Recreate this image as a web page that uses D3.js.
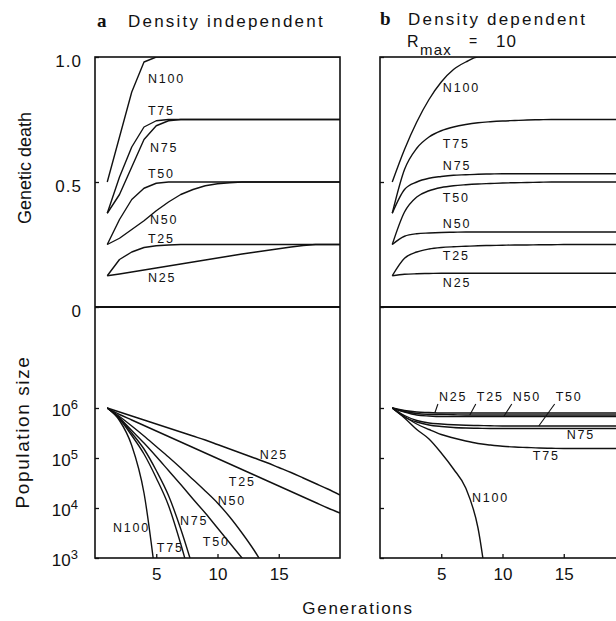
<!DOCTYPE html>
<html>
<head>
<meta charset="utf-8">
<script src="https://cdn.jsdelivr.net/npm/d3@7"></script>
<style>
  body { margin: 0; background: #fff; }
  text { font-family: "Liberation Sans", Arial, Helvetica, sans-serif; fill: #111; }
</style>
</head>
<body>
<svg id="chart" width="616" height="621"></svg>
<script>
// Generations (x values)
const gens = [1, 2, 3, 4, 5, 6, 7, 8, 9, 10, 11, 12, 13, 14, 15, 16, 17, 18, 19, 20];

// Genetic death, panel a (density independent)
const deathA_N100 = [0.50, 0.68, 0.86, 0.98, 1.00, 1.00, 1.00, 1.00, 1.00, 1.00, 1.00, 1.00, 1.00, 1.00, 1.00, 1.00, 1.00, 1.00, 1.00, 1.00];
const deathA_T75 = [0.375, 0.52, 0.64, 0.72, 0.745, 0.75, 0.75, 0.75, 0.75, 0.75, 0.75, 0.75, 0.75, 0.75, 0.75, 0.75, 0.75, 0.75, 0.75, 0.75];
const deathA_N75 = [0.375, 0.45, 0.56, 0.67, 0.725, 0.745, 0.75, 0.75, 0.75, 0.75, 0.75, 0.75, 0.75, 0.75, 0.75, 0.75, 0.75, 0.75, 0.75, 0.75];
const deathA_T50 = [0.25, 0.35, 0.43, 0.475, 0.495, 0.50, 0.50, 0.50, 0.50, 0.50, 0.50, 0.50, 0.50, 0.50, 0.50, 0.50, 0.50, 0.50, 0.50, 0.50];
const deathA_N50 = [0.25, 0.275, 0.31, 0.345, 0.385, 0.42, 0.45, 0.47, 0.485, 0.493, 0.497, 0.50, 0.50, 0.50, 0.50, 0.50, 0.50, 0.50, 0.50, 0.50];
const deathA_T25 = [0.125, 0.19, 0.22, 0.238, 0.245, 0.248, 0.25, 0.25, 0.25, 0.25, 0.25, 0.25, 0.25, 0.25, 0.25, 0.25, 0.25, 0.25, 0.25, 0.25];
const deathA_N25 = [0.125, 0.132, 0.14, 0.148, 0.156, 0.164, 0.172, 0.18, 0.188, 0.196, 0.204, 0.212, 0.219, 0.226, 0.233, 0.24, 0.246, 0.25, 0.25, 0.25];

// Genetic death, panel b (density dependent, Rmax = 10)
const deathB_N100 = [0.50, 0.63, 0.74, 0.83, 0.90, 0.95, 0.98, 1.00, 1.00, 1.00, 1.00, 1.00, 1.00, 1.00, 1.00, 1.00, 1.00, 1.00, 1.00, 1.00];
const deathB_T75 = [0.375, 0.55, 0.635, 0.68, 0.705, 0.72, 0.73, 0.737, 0.741, 0.744, 0.746, 0.748, 0.749, 0.75, 0.75, 0.75, 0.75, 0.75, 0.75, 0.75];
const deathB_N75 = [0.375, 0.47, 0.50, 0.515, 0.522, 0.527, 0.529, 0.531, 0.532, 0.533, 0.533, 0.533, 0.533, 0.533, 0.533, 0.533, 0.533, 0.533, 0.533, 0.533];
const deathB_T50 = [0.25, 0.38, 0.44, 0.465, 0.478, 0.485, 0.489, 0.492, 0.494, 0.496, 0.497, 0.498, 0.499, 0.50, 0.50, 0.50, 0.50, 0.50, 0.50, 0.50];
const deathB_N50 = [0.25, 0.283, 0.293, 0.296, 0.298, 0.299, 0.30, 0.30, 0.30, 0.30, 0.30, 0.30, 0.30, 0.30, 0.30, 0.30, 0.30, 0.30, 0.30, 0.30];
const deathB_T25 = [0.125, 0.195, 0.22, 0.232, 0.238, 0.241, 0.243, 0.245, 0.246, 0.247, 0.248, 0.248, 0.249, 0.249, 0.25, 0.25, 0.25, 0.25, 0.25, 0.25];
const deathB_N25 = [0.125, 0.131, 0.133, 0.134, 0.135, 0.135, 0.135, 0.135, 0.135, 0.135, 0.135, 0.135, 0.135, 0.135, 0.135, 0.135, 0.135, 0.135, 0.135, 0.135];

// Population size as log10, panel a
const popA_N100 = [6.0, 5.75, 5.25, 4.3, 2.5];
const popA_T75 = [6.0, 5.78, 5.45, 5.08, 4.6, 4.05, 3.28, 2.4];
const popA_N75 = [6.0, 5.8, 5.5, 5.18, 4.75, 4.25, 3.58, 2.8];
const popA_T50 = [6.0, 5.8, 5.55, 5.3, 5.03, 4.75, 4.47, 4.18, 3.9, 3.6, 3.3, 3.0, 2.7];
const popA_N50 = [6.0, 5.83, 5.64, 5.44, 5.23, 5.02, 4.8, 4.57, 4.34, 4.1, 3.82, 3.5, 3.15, 2.75];
const popA_T25 = [6.0, 5.87, 5.76, 5.65, 5.54, 5.43, 5.32, 5.21, 5.1, 4.99, 4.88, 4.77, 4.66, 4.55, 4.44, 4.33, 4.22, 4.11, 4.0, 3.9];
const popA_N25 = [6.0, 5.92, 5.84, 5.76, 5.68, 5.6, 5.52, 5.44, 5.36, 5.27, 5.18, 5.09, 5.0, 4.91, 4.81, 4.71, 4.6, 4.49, 4.38, 4.26];

// Population size as log10, panel b
const popB_N100 = [6.0, 5.8, 5.57, 5.38, 5.1, 4.78, 4.4, 3.6, 1.9];
const popB_T75 = [6.0, 5.83, 5.68, 5.57, 5.47, 5.4, 5.34, 5.29, 5.26, 5.235, 5.22, 5.21, 5.2, 5.195, 5.19, 5.19, 5.19, 5.19, 5.19, 5.19];
const popB_N75 = [6.0, 5.82, 5.72, 5.66, 5.63, 5.61, 5.6, 5.595, 5.59, 5.59, 5.59, 5.59, 5.59, 5.59, 5.59, 5.59, 5.59, 5.59, 5.59, 5.59];
const popB_T50 = [6.0, 5.85, 5.75, 5.7, 5.68, 5.665, 5.655, 5.65, 5.645, 5.64, 5.64, 5.64, 5.64, 5.64, 5.64, 5.64, 5.64, 5.64, 5.64, 5.64];
const popB_N50 = [6.0, 5.92, 5.86, 5.84, 5.83, 5.83, 5.83, 5.83, 5.83, 5.83, 5.83, 5.83, 5.83, 5.83, 5.83, 5.83, 5.83, 5.83, 5.83, 5.83];
const popB_T25 = [6.0, 5.93, 5.89, 5.875, 5.87, 5.865, 5.86, 5.86, 5.86, 5.86, 5.86, 5.86, 5.86, 5.86, 5.86, 5.86, 5.86, 5.86, 5.86, 5.86];
const popB_N25 = [6.0, 5.95, 5.92, 5.91, 5.9, 5.9, 5.9, 5.9, 5.9, 5.9, 5.9, 5.9, 5.9, 5.9, 5.9, 5.9, 5.9, 5.9, 5.9, 5.9];

// Tick labels
const deathTicks = [0, 0.5, 1];
const deathTickLabels = ["0", "0.5", "1.0"];
const popTicks = [1e3, 1e4, 1e5, 1e6];
const genTicks = [5, 10, 15];

const svg = d3.select("#chart");
svg.append("rect").attr("width", 616).attr("height", 621).attr("fill", "#fff");

// Scales
const xA = d3.scaleLinear().domain([0, 20]).range([95, 340]);
const xB = d3.scaleLinear().domain([0, 20]).range([380, 625]);
const yDeath = d3.scaleLinear().domain([0, 1]).range([307, 57]);
const yPop = d3.scaleLog().domain([1e3, 1e8]).range([558, 308]);

const defs = svg.append("defs");
function addClip(id, x, y) {
    defs.append("clipPath").attr("id", id)
        .append("rect")
        .attr("x", x.range()[0]).attr("y", y.range()[1])
        .attr("width", x.range()[1] - x.range()[0])
        .attr("height", y.range()[0] - y.range()[1]);
}
addClip("clipTopA", xA, yDeath);
addClip("clipTopB", xB, yDeath);
addClip("clipBotA", xA, yPop);
addClip("clipBotB", xB, yPop);

function drawCurves(clipId, x, yFn, list, curve) {
    const line = d3.line()
        .x((d, i) => x(gens[i]))
        .y(d => yFn(d))
        .curve(curve);
    svg.append("g")
        .attr("clip-path", `url(#${clipId})`)
        .selectAll("path")
        .data(list)
        .enter().append("path")
        .attr("d", d => line(d))
        .attr("fill", "none")
        .attr("stroke", "#111")
        .attr("stroke-width", 1.4)
        .attr("stroke-linejoin", "round");
}

const popY = v => yPop(Math.pow(10, v));

drawCurves("clipTopA", xA, yDeath,
    [deathA_N100, deathA_T75, deathA_N75, deathA_T50, deathA_N50, deathA_T25, deathA_N25], d3.curveLinear);
drawCurves("clipTopB", xB, yDeath,
    [deathB_N100, deathB_T75, deathB_N75, deathB_T50, deathB_N50, deathB_T25, deathB_N25], d3.curveMonotoneX);
drawCurves("clipBotA", xA, popY,
    [popA_N100, popA_T75, popA_N75, popA_T50, popA_N50, popA_T25, popA_N25], d3.curveMonotoneX);
drawCurves("clipBotB", xB, popY,
    [popB_N100, popB_T75, popB_N75, popB_T50, popB_N50, popB_T25, popB_N25], d3.curveMonotoneX);

// Frames
[xA, xB].forEach(x => {
    svg.append("rect")
        .attr("x", x.range()[0]).attr("y", 57)
        .attr("width", x.range()[1] - x.range()[0]).attr("height", 558 - 57)
        .attr("fill", "none").attr("stroke", "#111").attr("stroke-width", 1.6);
    svg.append("line")
        .attr("x1", x.range()[0]).attr("x2", x.range()[1])
        .attr("y1", 307).attr("y2", 307)
        .attr("stroke", "#111").attr("stroke-width", 2.2);
});

// Axes
function styleAxis(g, size) {
    g.select(".domain").remove();
    g.selectAll(".tick line").attr("stroke", "#111").attr("stroke-width", 1.3);
    g.selectAll(".tick text")
        .attr("font-size", size + "px")
        .attr("fill", "#111")
        .style("font-family", '"Liberation Sans", Arial, sans-serif');
}

const deathAxisA = svg.append("g").attr("transform", "translate(95,0)")
    .call(d3.axisLeft(yDeath).tickValues(deathTicks).tickSize(-4).tickPadding(13)
        .tickFormat((d, i) => deathTickLabels[i]));
styleAxis(deathAxisA, 17);
deathAxisA.selectAll(".tick text").attr("dy", "0.55em").attr("letter-spacing", "1px");

const deathAxisB = svg.append("g").attr("transform", "translate(380,0)")
    .call(d3.axisLeft(yDeath).tickValues(deathTicks).tickSize(-4).tickFormat(""));
styleAxis(deathAxisB, 17);

const popAxisA = svg.append("g").attr("transform", "translate(95,0)")
    .call(d3.axisLeft(yPop).tickValues(popTicks).tickSize(-4).tickPadding(17));
styleAxis(popAxisA, 17);
popAxisA.selectAll(".tick text").each(function(d) {
    const t = d3.select(this);
    t.text("").attr("dy", "0.45em");
    t.append("tspan").text("10");
    t.append("tspan").attr("dy", "-0.55em").attr("font-size", "13px").text(Math.round(Math.log10(d)));
});

const popAxisB = svg.append("g").attr("transform", "translate(380,0)")
    .call(d3.axisLeft(yPop).tickValues(popTicks).tickSize(-4).tickFormat(""));
styleAxis(popAxisB, 17);

[xA, xB].forEach(x => {
    const g = svg.append("g").attr("transform", "translate(0,558)")
        .call(d3.axisBottom(x).tickValues(genTicks).tickSize(-4).tickPadding(10));
    styleAxis(g, 17);
});

// Curve labels
function addLabel(x, y, text) {
    svg.append("text")
        .attr("x", x).attr("y", y)
        .attr("font-size", "12.5px")
        .attr("letter-spacing", "1.8px")
        .text(text);
}

const topLabelsA = [["N100", 4.32, 0.896], ["T75", 4.32, 0.768], ["N75", 4.48, 0.62], ["T50", 4.32, 0.516],
    ["N50", 4.48, 0.332], ["T25", 4.32, 0.256], ["N25", 4.32, 0.10]];
topLabelsA.forEach(([n, g, v]) => addLabel(xA(g), yDeath(v), n));

const topLabelsB = [["N100", 5.13, 0.86], ["T75", 5.13, 0.636], ["N75", 5.13, 0.548], ["T50", 5.13, 0.42],
    ["N50", 5.13, 0.316], ["T25", 5.13, 0.188], ["N25", 5.13, 0.08]];
topLabelsB.forEach(([n, g, v]) => addLabel(xB(g), yDeath(v), n));

const botLabelsA = [["N25", 13.45, 4.98], ["T25", 10.92, 4.44], ["N50", 10.02, 4.06], ["N75", 6.93, 3.66],
    ["N100", 1.47, 3.52], ["T75", 5.05, 3.12], ["T50", 8.8, 3.24]];
botLabelsA.forEach(([n, g, v]) => addLabel(xA(g), popY(v), n));

function interp(series, g) {
    const i = Math.floor(g) - 1;
    const f = g - Math.floor(g);
    return series[i] + (series[i + 1] - series[i]) * f;
}

const botLabelsB = [["N25", 4.81, 6.14, popB_N25, 4.48], ["T25", 7.9, 6.14, popB_T25, 7.33],
    ["N50", 10.84, 6.14, popB_N50, 10.1], ["T50", 14.34, 6.14, popB_T50, 12.96],
    ["N75", 15.24, 5.38, null, 0], ["T75", 12.47, 4.96, null, 0], ["N100", 7.5, 4.12, null, 0]];
botLabelsB.forEach(([n, g, v, s, lg]) => {
    addLabel(xB(g), popY(v), n);
    if (s) {
        svg.append("line")
            .attr("x1", xB(g) - 1).attr("y1", popY(v) + 3)
            .attr("x2", xB(lg)).attr("y2", popY(interp(s, lg)))
            .attr("stroke", "#111").attr("stroke-width", 1.1);
    }
});

// Titles
svg.append("text").attr("x", 97).attr("y", 27)
    .attr("font-size", "19px").attr("font-weight", "bold")
    .style("font-family", '"Liberation Serif", "DejaVu Serif", serif').text("a");
svg.append("text").attr("x", 128).attr("y", 27)
    .attr("font-size", "17px").attr("letter-spacing", "2.2px").text("Density independent");

svg.append("text").attr("x", 380).attr("y", 25)
    .attr("font-size", "19px").attr("font-weight", "bold")
    .style("font-family", '"Liberation Serif", "DejaVu Serif", serif').text("b");
svg.append("text").attr("x", 408).attr("y", 25)
    .attr("font-size", "17px").attr("letter-spacing", "2.2px").text("Density dependent");
svg.append("text").attr("x", 407).attr("y", 47).attr("font-size", "16px").text("R");
svg.append("text").attr("x", 420).attr("y", 55).attr("font-size", "15px").attr("letter-spacing", "1.2px").text("max");
svg.append("text").attr("x", 469).attr("y", 46).attr("font-size", "14px").text("=");
svg.append("text").attr("x", 496).attr("y", 47).attr("font-size", "17px").attr("letter-spacing", "1px").text("10");

// Axis titles
svg.append("text").attr("transform", "translate(31,168) rotate(-90)")
    .attr("text-anchor", "middle").attr("font-size", "18px").text("Genetic death");
svg.append("text").attr("transform", "translate(29,432) rotate(-90)")
    .attr("text-anchor", "middle").attr("font-size", "19px").attr("letter-spacing", "1.6px").text("Population size");
svg.append("text").attr("x", 358).attr("y", 614)
    .attr("text-anchor", "middle").attr("font-size", "17px").attr("letter-spacing", "1.7px").text("Generations");
</script>
</body>
</html>
